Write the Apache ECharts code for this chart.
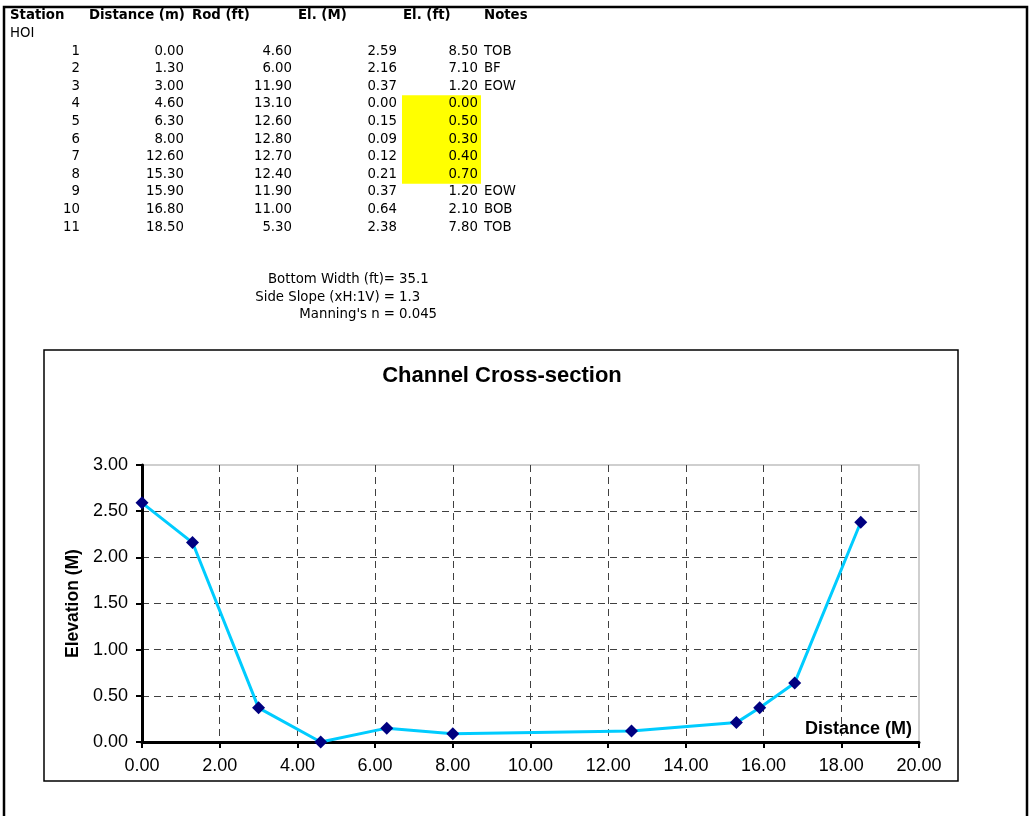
<!DOCTYPE html>
<html><head><meta charset="utf-8">
<script src="https://cdn.jsdelivr.net/npm/echarts@6/dist/echarts.min.js"></script>
<style>html,body{margin:0;padding:0;background:#fff;}#c{width:1029px;height:816px;}</style>
</head><body><div id="c"></div>
<script>
// ---- data ----
const headers = ['Station', 'Distance (m)', 'Rod (ft)', 'El. (M)', 'El. (ft)', 'Notes'];
const stationName = 'HOI';
const stations = [1, 2, 3, 4, 5, 6, 7, 8, 9, 10, 11];
const distances = [0.00, 1.30, 3.00, 4.60, 6.30, 8.00, 12.60, 15.30, 15.90, 16.80, 18.50];
const rods = [4.60, 6.00, 11.90, 13.10, 12.60, 12.80, 12.70, 12.40, 11.90, 11.00, 5.30];
const elevM = [2.59, 2.16, 0.37, 0.00, 0.15, 0.09, 0.12, 0.21, 0.37, 0.64, 2.38];
const elevFt = [8.50, 7.10, 1.20, 0.00, 0.50, 0.30, 0.40, 0.70, 1.20, 2.10, 7.80];
const notes = ['TOB', 'BF', 'EOW', '', '', '', '', '', 'EOW', 'BOB', 'TOB'];
const highlighted = [false, false, false, true, true, true, true, true, false, false, false];
const paramLabels = ['Bottom Width (ft)=', 'Side Slope (xH:1V) =', "Manning's n ="];
const paramValues = ['35.1', '1.3', '0.045'];
const chartTitle = 'Channel Cross-section';
const xAxisName = 'Distance (M)';
const yAxisName = 'Elevation (M)';
const xMin = 0, xMax = 20, xStep = 2;
const yMin = 0, yMax = 3, yStep = 0.5;

// ---- layout ----
const tFont = '"DejaVu Sans", Verdana, sans-serif';
const cFont = '"Liberation Sans", Arial, sans-serif';
const tSize = 13.3;
const row0 = 16, rowH = 17.6;
const headerX = [10, 89, 192, 298, 403, 484];
const colRight = [80, 184, 292, 397, 478];
const notesX = 484;
const yellowX0 = 402, yellowX1 = 481;

function txt(x, y, text, opt) {
  opt = opt || {};
  return {
    type: 'text', x: x, y: y, silent: true, z: 5,
    style: {
      text: text, fill: '#000',
      fontSize: opt.size || tSize, fontFamily: opt.family || tFont,
      fontWeight: opt.bold ? 'bold' : 'normal',
      align: opt.align || 'left', verticalAlign: 'middle'
    }
  };
}

const g = [];
// outer border
g.push({type: 'polyline', silent: true, z: 5, shape: {points: [[4, 816], [4, 7], [1027, 7], [1027, 816]]},
  style: {stroke: '#000', lineWidth: 2.5, fill: null}});
// yellow highlights
highlighted.forEach((h, i) => {
  if (!h) return;
  const cy = row0 + (i + 2) * rowH;
  g.push({type: 'rect', silent: true, z: 1, shape: {x: yellowX0, y: cy - rowH / 2, width: yellowX1 - yellowX0, height: rowH + 0.6},
    style: {fill: '#FFFF00'}});
});
// header
headers.forEach((h, i) => g.push(txt(headerX[i], row0, h, {bold: true})));
g.push(txt(10, row0 + rowH, stationName));
stations.forEach((s, i) => {
  const y = row0 + (i + 2) * rowH;
  g.push(txt(colRight[0], y, String(s), {align: 'right'}));
  g.push(txt(colRight[1], y, distances[i].toFixed(2), {align: 'right'}));
  g.push(txt(colRight[2], y, rods[i].toFixed(2), {align: 'right'}));
  g.push(txt(colRight[3], y, elevM[i].toFixed(2), {align: 'right'}));
  g.push(txt(colRight[4], y, elevFt[i].toFixed(2), {align: 'right'}));
  if (notes[i]) g.push(txt(notesX, y, notes[i]));
});
// parameters
paramLabels.forEach((l, i) => {
  const y = 280 + i * 17.5;
  g.push(txt(395, y, l, {align: 'right'}));
  g.push(txt(399, y, paramValues[i]));
});
// chart box
g.push({type: 'rect', silent: true, z: 5, shape: {x: 44, y: 350, width: 914, height: 431},
  style: {stroke: '#000', lineWidth: 1.5, fill: null}});

const chart = echarts.init(document.getElementById('c'), null, {renderer: 'canvas'});
chart.setOption({
  animation: false,
  backgroundColor: '#fff',
  title: {
    text: chartTitle, left: 502, top: 365, textAlign: 'center', padding: 0,
    textStyle: {fontSize: 22, fontWeight: 'bold', fontFamily: cFont, color: '#000'}
  },
  grid: {left: 142, top: 465, right: 110, bottom: 74, show: true, borderColor: '#c0c0c0', borderWidth: 1.5, backgroundColor: 'transparent'},
  xAxis: {
    type: 'value', min: xMin, max: xMax, interval: xStep,
    axisLine: {show: true, onZero: false, lineStyle: {color: '#000', width: 3}},
    axisTick: {show: true, length: 6, lineStyle: {color: '#000', width: 2}},
    axisLabel: {formatter: v => v.toFixed(2), fontSize: 18, color: '#000', fontFamily: cFont, margin: 15},
    splitLine: {show: true, showMinLine: false, showMaxLine: false, lineStyle: {color: '#404040', type: [7, 5], width: 1}},
    name: xAxisName, nameLocation: 'end', nameGap: -7,
    nameTextStyle: {fontWeight: 'bold', fontSize: 18, fontFamily: cFont, color: '#000', align: 'right', verticalAlign: 'bottom', padding: [0, 0, 4, 0]}
  },
  yAxis: {
    type: 'value', min: yMin, max: yMax, interval: yStep,
    axisLine: {show: true, onZero: false, lineStyle: {color: '#000', width: 3}},
    axisTick: {show: true, length: 6, lineStyle: {color: '#000', width: 2}},
    axisLabel: {formatter: v => v.toFixed(2), fontSize: 18, color: '#000', fontFamily: cFont, margin: 14},
    splitLine: {show: true, showMinLine: false, showMaxLine: false, lineStyle: {color: '#404040', type: [7, 5], width: 1}},
    name: yAxisName, nameLocation: 'middle', nameGap: 60,
    nameTextStyle: {fontWeight: 'bold', fontSize: 17.5, fontFamily: cFont, color: '#000'}
  },
  series: [{
    type: 'line',
    data: distances.map((d, i) => [d, elevM[i]]),
    symbol: 'diamond', symbolSize: 13,
    lineStyle: {color: '#00CCFF', width: 3},
    itemStyle: {color: '#000080'},
    z: 3
  }],
  graphic: {elements: g}
});
</script>
</body></html>
